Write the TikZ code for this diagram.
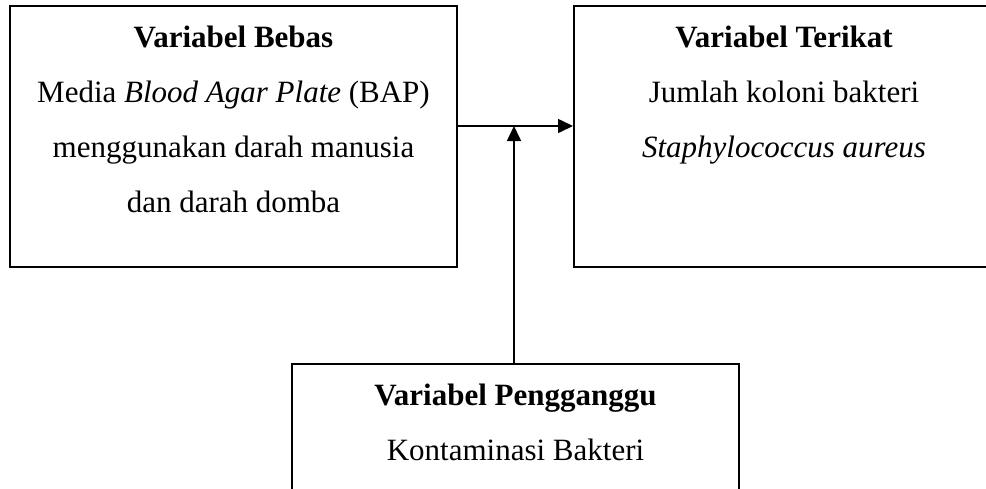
\documentclass[tikz,border=0pt]{standalone}
\usepackage{fontspec}
\setmainfont{Liberation Serif}
\usepackage{tikz}
\usetikzlibrary{arrows.meta,positioning}
\newcommand{\boxw}{223.5pt}
\newcommand{\boxh}{130.5pt}
\tikzset{
  varbox/.style={draw, line width=1pt, minimum width=\boxw, minimum height=\boxh, inner sep=0pt},
  vartext/.style={align=center, anchor=base, font=\fontsize{15.5}{27.5}\selectfont},
  link/.style={line width=0.8pt, -{Triangle[length=7.5pt,width=7pt]}}
}

\begin{document}
\begin{tikzpicture}[x=0.5pt,y=-0.5pt]
        %\draw[help lines] (0,0) grid (986,488);
        \useasboundingbox (0,0) rectangle (986,488);
        \clip (0,0) rectangle (986,488);
        % boxes
        \node[varbox] (bebas) at (233.5,136.5) {};
        \node[varbox, minimum width=210pt] (terikat) at (784,136.5) {};
        \node[varbox] (ganggu) at (515.5,494.5) {};
        % texts (anchored at the baseline of their last line)
        \node[vartext] (bebas-txt) at (233.5,212) {\textbf{Variabel Bebas}\\
                Media \textit{Blood Agar Plate} (BAP)\\
                menggunakan darah manusia\\
                dan darah domba};
        \node[vartext] (terikat-txt) at (784,157) {\textbf{Variabel Terikat}\\
                Jumlah koloni bakteri\\
                \textit{Staphylococcus aureus}};
        \node[vartext] (ganggu-txt) at (515.5,460) {\textbf{Variabel Pengganggu}\\
                Kontaminasi Bakteri};
        % connectors
        \coordinate (mid) at (514,126);
        \draw[link] (bebas.east |- mid) -- (terikat.west |- mid);
        \draw[link] (ganggu.north -| mid) -- (mid);
\end{tikzpicture}
\end{document}
